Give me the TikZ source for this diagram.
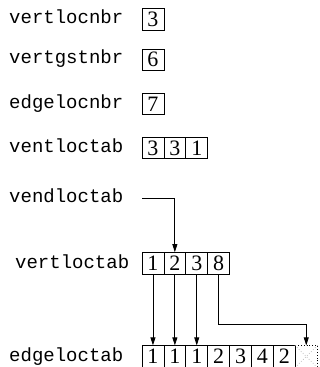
\documentclass[tikz,border=0pt]{standalone}
\usepackage{fontspec}
\setmainfont{Liberation Serif}
\setmonofont{Liberation Mono}
\usetikzlibrary{arrows.meta}
\begin{document}
\begin{tikzpicture}[x=1pt,y=-1pt,
  lbl/.style={anchor=base west,inner sep=0,font=\ttfamily\fontsize{19}{19}\selectfont},
  cell/.style={draw,line width=0.8pt,minimum width=21.9pt,minimum height=21.5pt,
    inner sep=0,text height=14.5pt,text depth=0pt,font=\fontsize{22}{22}\selectfont},
  spare/.style={draw,dotted,line width=0.8pt,minimum width=21.9pt,minimum height=21.5pt,inner sep=0},
  ptr/.style={-{Triangle[length=8pt,width=5pt]},line width=0.8pt}]
\useasboundingbox (0,0) rectangle (320,367);

% scalar values
\node[lbl] (lvn) at (9,23) {vertlocnbr};
\node[cell] (vn) at (152.95,19.3) {3};
\node[lbl] (lvg) at (9,63.5) {vertgstnbr};
\node[cell] (vg) at (152.95,59.7) {6};
\node[lbl] (len) at (9,108) {edgelocnbr};
\node[cell] (en) at (152.95,104) {7};

% ventloctab array
\node[lbl] (lvt) at (9,152) {ventloctab};
\foreach \v [count=\i] in {3,3,1}
  \node[cell] (vt\i) at ({142+21.9*(\i-0.5)},147.8) {\v};

% vendloctab pointer into vertloctab
\node[lbl] (lve) at (9,202) {vendloctab};
\coordinate (vestart) at (142,198.3);

% vertloctab array
\node[lbl] (lvl) at (15,268.3) {vertloctab};
\foreach \v [count=\i] in {1,2,3,8}
  \node[cell] (vl\i) at ({142+21.9*(\i-0.5)},263.3) {\v};

% edgeloctab array, last slot unused
\node[lbl] (lel) at (9,361) {edgeloctab};
\foreach \v [count=\i] in {1,1,1,2,3,4,2}
  \node[cell] (el\i) at ({142+21.9*(\i-0.5)},356.5) {\v};
\node[spare] (el8) at ({142+21.9*7.5},356.5) {};
\draw[dotted,gray!50,line width=0.8pt] (el8.north west) -- (el8.south east)
  (el8.north east) -- (el8.south west);

% connectors
\draw[ptr] (vestart) -| (vl2.north);
\draw[ptr] (vl1.south) -- (el1.north);
\draw[ptr] (vl2.south) -- (el2.north);
\draw[ptr] (vl3.south) -- (el3.north);
\draw[ptr] (vl4.south) -- ++(0,50) -| (el8.north);
\end{tikzpicture}
\end{document}
